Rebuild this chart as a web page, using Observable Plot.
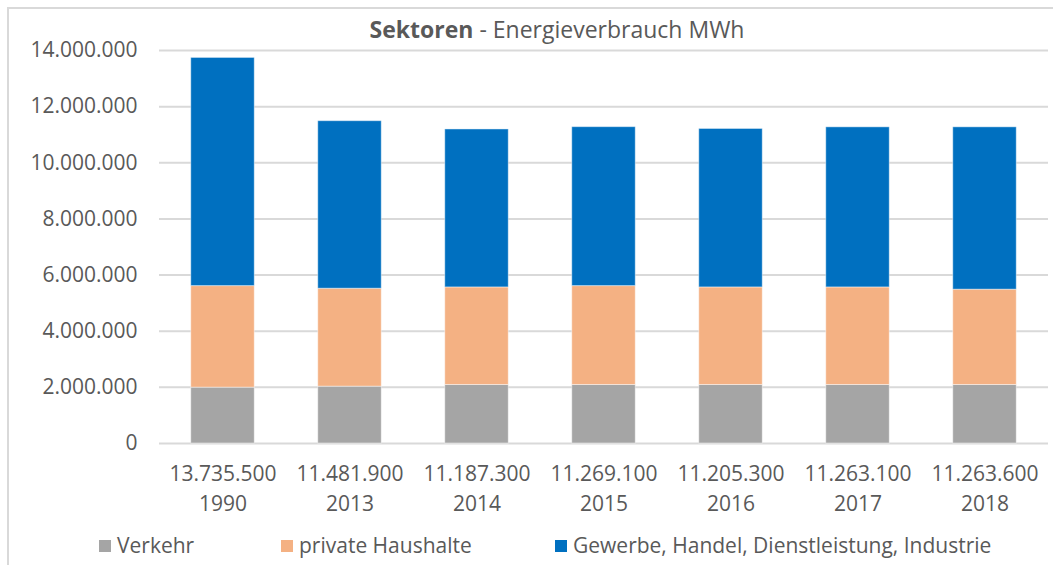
<!DOCTYPE html>
<html>
<head>
<meta charset="utf-8">
<script src="https://cdn.jsdelivr.net/npm/d3@7"></script>
<script src="https://cdn.jsdelivr.net/npm/@observablehq/plot@0.6"></script>
<style>
  html, body { margin: 0; padding: 0; background: #fff; }
  #wrap { position: relative; width: 1053px; height: 565px; overflow: hidden; font-family: "Open Sans", sans-serif; color: #595959; }
  #frame { position: absolute; left: 7px; top: 7px; width: 1100px; height: 600px; border-left: 2px solid #d9d9d9; border-top: 2px solid #d9d9d9; box-sizing: border-box; }
  #title { position: absolute; top: 13px; left: 307px; width: 500px; text-align: center; font-size: 23px; white-space: nowrap; }
  #title b { font-weight: 700; }
  #legend { position: absolute; top: 531px; left: 0; width: 1053px; font-size: 21px; }
  .item { position: absolute; top: 0; white-space: nowrap; }
  .sw { display: inline-block; width: 12px; height: 12px; margin-right: 6px; vertical-align: 1px; }
  #chart { position: absolute; left: 0; top: 0; }
</style>
</head>
<body>
<div id="wrap">
  <div id="frame"></div>
  <div id="chart"></div>
  <div id="title"><b>Sektoren</b> - Energieverbrauch MWh</div>
  <div id="legend"></div>
</div>
<script>
// ---- data ----
const years = ["1990", "2013", "2014", "2015", "2016", "2017", "2018"];
const totalLabels = ["13.735.500", "11.481.900", "11.187.300", "11.269.100", "11.205.300", "11.263.100", "11.263.600"];
const verkehr   = [1990000, 2025000, 2085000, 2085000, 2085000, 2085000, 2085000];
const haushalte = [3617000, 3489000, 3475000, 3522000, 3475000, 3475000, 3395000];
const gewerbe   = [8128500, 5967900, 5627300, 5662100, 5645300, 5703100, 5783600];
const sectors = ["Verkehr", "private Haushalte", "Gewerbe, Handel, Dienstleistung, Industrie"];
const sectorColors = ["#A5A5A5", "#F4B183", "#0070C0"];
const yTicks = [0, 2000000, 4000000, 6000000, 8000000, 10000000, 12000000, 14000000];

const series = [verkehr, haushalte, gewerbe];
const rows = [];
sectors.forEach((s, si) => {
  years.forEach((y, yi) => rows.push({year: y, sector: s, value: series[si][yi]}));
});

const de = d3.formatLocale({decimal: ",", thousands: ".", grouping: [3], currency: ["", " €"]});
const fmt = de.format(",");
const totalByYear = new Map(years.map((y, i) => [y, totalLabels[i]]));

const chart = Plot.plot({
  width: 1053,
  height: 565,
  marginLeft: 159,
  marginRight: 5,
  marginTop: 50,
  marginBottom: 122,
  style: {fontFamily: "'Open Sans', sans-serif", fontSize: "21px", color: "#595959", background: "transparent"},
  x: {domain: years, paddingInner: 0.5, paddingOuter: 0.25, round: false, label: null},
  y: {domain: [0, 14000000], label: null},
  color: {domain: sectors, range: sectorColors},
  marks: [
    Plot.gridY(yTicks, {stroke: "#d9d9d9", strokeOpacity: 1, strokeWidth: 2}),
    Plot.barY(rows, {x: "year", y: "value", fill: "sector", stroke: "white", strokeOpacity: 0.45, strokeWidth: 1}),
    Plot.axisY(yTicks, {tickSize: 0, tickPadding: 22, tickFormat: fmt, fill: "#595959", fontSize: 21, label: null}),
    Plot.axisX({tickSize: 0, tickPadding: 16, tickFormat: d => totalByYear.get(d) + "\n" + d, lineHeight: 1.43, fill: "#595959", fontSize: 21, label: null})
  ]
});
document.getElementById("chart").appendChild(chart);

// legend
const legend = document.getElementById("legend");
const lx = [99, 281, 555];
sectors.forEach((s, i) => {
  const it = document.createElement("div");
  it.className = "item";
  it.style.left = lx[i] + "px";
  it.innerHTML = `<span class="sw" style="background:${sectorColors[i]}"></span>${s}`;
  legend.appendChild(it);
});
</script>
</body>
</html>
